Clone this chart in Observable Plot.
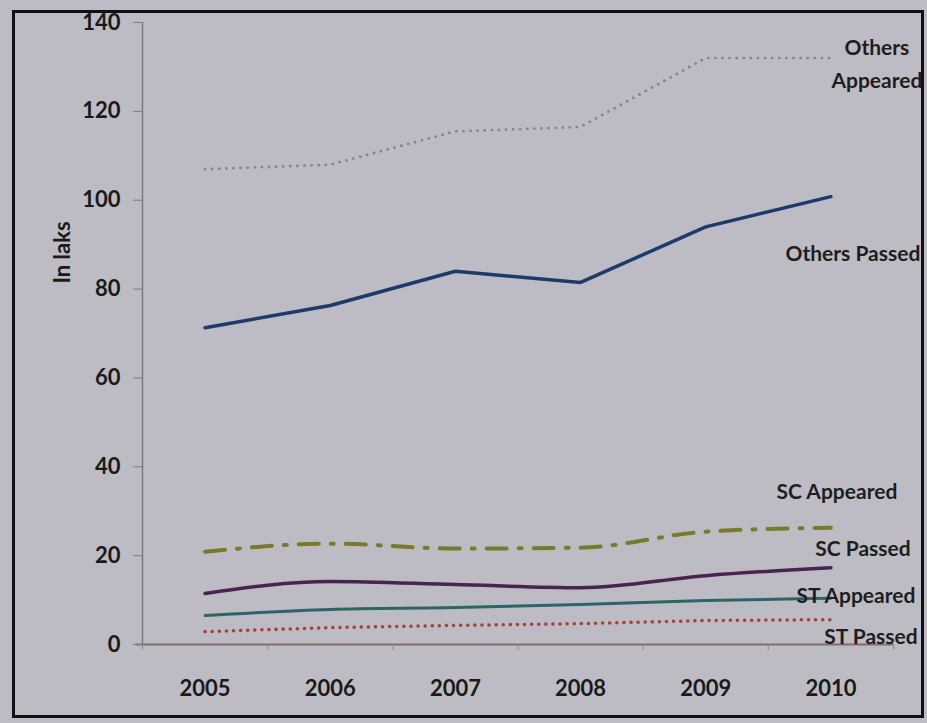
<!DOCTYPE html>
<html>
<head>
<meta charset="utf-8">
<script src="https://cdn.jsdelivr.net/npm/d3@7"></script>
<script src="https://cdn.jsdelivr.net/npm/@observablehq/plot@0.6"></script>
<style>
  html, body { margin: 0; padding: 0; background: #bdbcc4; width: 927px; height: 723px; overflow: hidden; }
  #wrap { position: relative; width: 927px; height: 723px; }
  #border { position: absolute; left: 12px; top: 10px; width: 906px; height: 702px; border: 3px solid #111; pointer-events: none; }
  svg { position: absolute; left: 0; top: 0; }
</style>
</head>
<body>
<div id="wrap"><div id="border"></div></div>
<script>
const years = [2005, 2006, 2007, 2008, 2009, 2010];
const othersAppeared = [107, 108, 115.5, 116.5, 132, 132];
const othersPassed = [71.3, 76.3, 84, 81.5, 94, 100.8];
const scAppeared = [20.9, 22.7, 21.6, 21.8, 25.4, 26.3];
const scPassed = [11.5, 14.2, 13.5, 12.8, 15.5, 17.3];
const stAppeared = [6.5, 7.9, 8.3, 9.0, 9.9, 10.4];
const stPassed = [2.9, 3.8, 4.3, 4.7, 5.4, 5.6];
const yTicks = [0, 20, 40, 60, 80, 100, 120, 140];
const yLabel = "In laks";

const series = [
  {name: "Others\nAppeared", values: othersAppeared, stroke: "#85858f", width: 2.8, dash: "0.1,7", curve: "linear", dx: 46, dy: 3},
  {name: "Others Passed", values: othersPassed, stroke: "#1d3a6a", width: 3.5, dash: null, curve: "linear", dx: 22, dy: 54},
  {name: "SC Appeared", values: scAppeared, stroke: "#7a7a2c", width: 4, dash: "20,12,3,12", curve: "monotone-x", dx: 6, dy: -39},
  {name: "SC Passed", values: scPassed, stroke: "#4a2350", width: 3.5, dash: null, curve: "monotone-x", dx: 32, dy: -22},
  {name: "ST Appeared", values: stAppeared, stroke: "#2d6468", width: 3, dash: null, curve: "monotone-x", dx: 25, dy: -6},
  {name: "ST Passed", values: stPassed, stroke: "#a8403a", width: 3.5, dash: "0.1,7", curve: "linear", dx: 40, dy: 14}
];

const boundaries = years.map(y => y - 0.5).concat([years[years.length - 1] + 0.5]);
const x0 = boundaries[0], x1 = boundaries[boundaries.length - 1];

const marks = [
  Plot.ruleX([x0], {y1: yTicks[0], y2: yTicks[yTicks.length - 1], stroke: "#7c7c86", strokeWidth: 1.5}),
  Plot.ruleY([0], {x1: x0 - 0.05, x2: x1, stroke: "#836a6c", strokeWidth: 2}),
  Plot.axisY({ticks: yTicks, tickSize: 9, tickPadding: 13, label: null, stroke: "#7c7c86", fontSize: 22, fontWeight: "bold", fill: "#1a1a1a"}),
  Plot.axisX({ticks: years, tickSize: 0, tickPadding: 36, label: null, tickFormat: d => String(d), fontSize: 22, fontWeight: "bold", fill: "#1a1a1a"}),
  Plot.axisX({ticks: boundaries, tickSize: 6, tickFormat: () => "", label: null, stroke: "#8a8a92"}),
  Plot.text([yLabel], {frameAnchor: "top-left", dx: -88, dy: 261, rotate: -90, fontSize: 22, fontWeight: "bold", fill: "#1a1a1a", text: d => d})
];

for (const s of series) {
  const data = years.map((yr, i) => ({year: yr, value: s.values[i]}));
  marks.push(Plot.line(data, {x: "year", y: "value", stroke: s.stroke, strokeWidth: s.width, strokeDasharray: s.dash, curve: s.curve, strokeLinecap: "round"}));
  const last = data[data.length - 1];
  marks.push(Plot.text([last], {x: "year", y: "value", text: () => s.name, dx: s.dx, dy: s.dy, fontSize: 21, fontWeight: "bold", fill: "#1e1e1e", textAnchor: "middle", lineAnchor: "middle", lineHeight: 1.55, letterSpacing: "-0.5px"}));
}

const chart = Plot.plot({
  width: 927,
  height: 723,
  marginLeft: 142,
  marginRight: 34,
  marginTop: 22,
  marginBottom: 79,
  x: {type: "linear", domain: [x0, x1]},
  y: {domain: [0, 140]},
  style: {fontFamily: "Lato, 'Open Sans', sans-serif", background: "transparent", overflow: "visible"},
  marks
});
document.getElementById("wrap").insertBefore(chart, document.getElementById("border"));
</script>
</body>
</html>
